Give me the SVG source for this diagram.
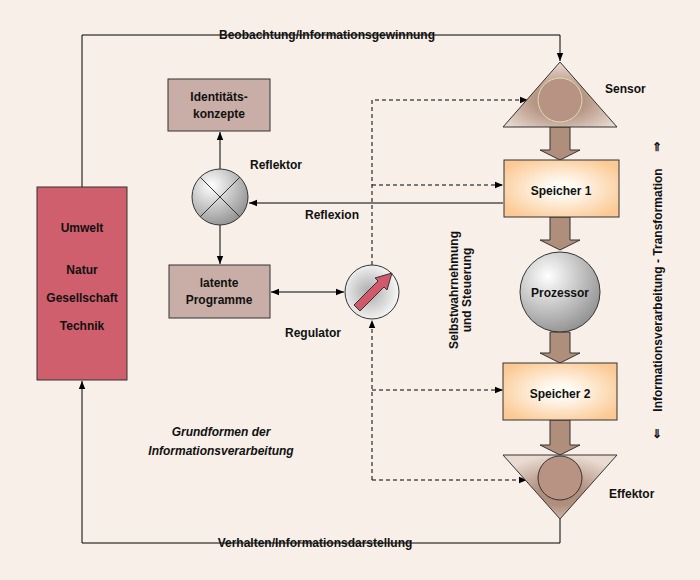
<svg xmlns="http://www.w3.org/2000/svg" width="700" height="580" viewBox="0 0 700 580">
<defs>
<style>
text{font-family:"Liberation Sans",Arial,sans-serif;font-weight:bold;font-size:12px;fill:#111}
.ln{fill:none;stroke:#000;stroke-width:1}
.ds{fill:none;stroke:#000;stroke-width:1;stroke-dasharray:4,3}
.brown{fill:#c8aea6;stroke:#333}
.big{fill:#b08e7c;stroke:#333;stroke-width:1}
</style>
<marker id="ah" viewBox="0 0 10 10" refX="10" refY="5" markerWidth="8" markerHeight="8" orient="auto-start-reverse"><path d="M0,1 L10,5 L0,9 z" fill="#000"/></marker>
<radialGradient id="sp" cx="0.5" cy="0.5" r="0.6"><stop offset="0.2" stop-color="#fffaf2"/><stop offset="1" stop-color="#fbc994"/></radialGradient>
<radialGradient id="ball" cx="0.35" cy="0.3" r="0.8"><stop offset="0" stop-color="#fff"/><stop offset="1" stop-color="#8a8a8a"/></radialGradient>
<radialGradient id="tri" cx="0.5" cy="0.6" r="0.6"><stop offset="0.3" stop-color="#b08e7c"/><stop offset="1" stop-color="#eadbd2"/></radialGradient>
<radialGradient id="reg" cx="0.45" cy="0.5" r="0.6"><stop offset="0" stop-color="#aaa"/><stop offset="1" stop-color="#fff"/></radialGradient>
</defs>
<rect width="700" height="580" fill="#f7efe8"/>
<g id="connectors">
<path class="ln" d="M82,187 V35 H560 V61" marker-end="url(#ah)"/>
<path class="ln" d="M560,519 V543 H82 V381" marker-end="url(#ah)"/>
<path class="ln" d="M503,203 H249" marker-end="url(#ah)"/>
<path class="ln" d="M220,169 V132" marker-end="url(#ah)"/>
<path class="ln" d="M220,225 V264" marker-end="url(#ah)"/>
<path class="ln" d="M271,292 H344" marker-start="url(#ah)" marker-end="url(#ah)"/>
<path class="ds" d="M372,265 V100 H528" marker-end="url(#ah)"/>
<path class="ds" d="M372,185 H503" marker-end="url(#ah)"/>
<path class="ds" d="M372,480 V320" marker-end="url(#ah)"/>
<path class="ds" d="M372,390 H503" marker-end="url(#ah)"/>
<path class="ds" d="M372,480 H527" marker-end="url(#ah)"/>
<path class="big" d="M550,127 H570 V150 H580 L560,160 L540,150 H550 z"/>
<path class="big" d="M550,217 H570 V240 H580 L560,250 L540,240 H550 z"/>
<path class="big" d="M550,332 H570 V353 H580 L560,363 L540,353 H550 z"/>
<path class="big" d="M550,420 H570 V445 H580 L560,455 L540,445 H550 z"/>
</g>
<g id="umwelt"><rect x="37" y="187" width="90" height="193" fill="#cf5f6c" stroke="#333"/>
<text x="82" y="232" text-anchor="middle" font-size="13">Umwelt</text>
<text x="82" y="274" text-anchor="middle" font-size="11">Natur</text>
<text x="82" y="302" text-anchor="middle" font-size="11">Gesellschaft</text>
<text x="82" y="330" text-anchor="middle" font-size="11">Technik</text></g>
<g id="identitaet"><rect class="brown" x="168" y="79" width="102" height="52"/>
<text x="219" y="101" text-anchor="middle">Identitäts-</text><text x="219" y="118" text-anchor="middle">konzepte</text></g>
<g id="latente"><rect class="brown" x="169" y="265" width="101" height="53"/>
<text x="219" y="287" text-anchor="middle">latente</text><text x="219" y="304" text-anchor="middle">Programme</text></g>
<g id="reflektor"><circle cx="220" cy="197" r="28" fill="url(#ball)" stroke="#333"/>
<path d="M200,177 L240,217 M240,177 L200,217" stroke="#333"/>
<text x="250" y="169">Reflektor</text><text x="305" y="219" font-size="11">Reflexion</text></g>
<g id="regulator"><circle cx="372" cy="292" r="27" fill="url(#reg)" stroke="#333"/>
<path d="M354,305 L378,281 L375,278 L392,273 L387,290 L384,287 L360,311 z" fill="#d05a6a" stroke="#333"/>
<text x="285" y="337">Regulator</text></g>
<g id="sensor"><path d="M560,62 L617,127 H503 z" fill="url(#tri)" stroke="#333"/>
<circle cx="560" cy="100" r="22" fill="#b89282" stroke="#dde0b0"/>
<text x="605" y="93">Sensor</text></g>
<g id="speicher1"><rect x="504" y="160" width="115" height="57" fill="url(#sp)" stroke="#333"/><text x="561" y="195" text-anchor="middle">Speicher 1</text></g>
<g id="prozessor"><circle cx="560" cy="292" r="40" fill="url(#ball)" stroke="#333"/><text x="560" y="297" text-anchor="middle">Prozessor</text></g>
<g id="speicher2"><rect x="503" y="363" width="114" height="57" fill="url(#sp)" stroke="#333"/><text x="560" y="398" text-anchor="middle">Speicher 2</text></g>
<g id="effektor"><path d="M503,455 H617 L560,519 z" fill="url(#tri)" stroke="#333"/>
<circle cx="560" cy="478" r="22" fill="#b89282" stroke="#333"/>
<text x="609" y="498">Effektor</text></g>
<text x="327" y="39" text-anchor="middle" font-size="11">Beobachtung/Informationsgewinnung</text>
<text x="315" y="547" text-anchor="middle" font-size="11">Verhalten/Informationsdarstellung</text>
<text transform="translate(458,290) rotate(-90)" text-anchor="middle" font-size="11">Selbstwahrnehmung</text>
<text transform="translate(471,290) rotate(-90)" text-anchor="middle" font-size="11">und Steuerung</text>
<text transform="translate(662,290) rotate(-90)" text-anchor="middle" font-size="11">Informationsverarbeitung - Transformation</text>
<text x="657" y="151" text-anchor="middle" font-size="13">⇑</text>
<text x="657" y="438" text-anchor="middle" font-size="13">⇓</text>
<text x="221" y="436" text-anchor="middle" font-size="15" font-style="italic" font-weight="normal">Grundformen der</text>
<text x="221" y="455" text-anchor="middle" font-size="15" font-style="italic" font-weight="normal">Informationsverarbeitung</text>
</svg>
